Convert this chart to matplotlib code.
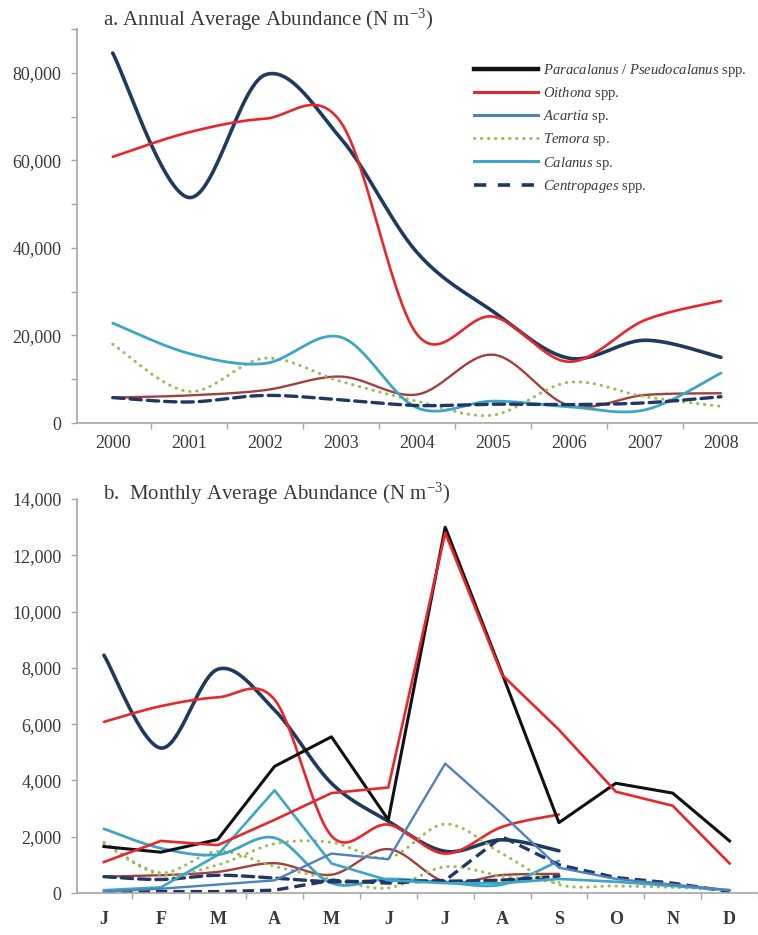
import numpy as np
import matplotlib
matplotlib.use("Agg")
import matplotlib.pyplot as plt
from matplotlib.lines import Line2D
from matplotlib.ticker import FuncFormatter, MultipleLocator

plt.rcParams['font.family'] = ['Liberation Serif', 'DejaVu Serif']
plt.rcParams['mathtext.fontset'] = 'custom'
plt.rcParams['mathtext.rm'] = 'Liberation Serif'
plt.rcParams['mathtext.it'] = 'Liberation Serif:italic'

# annual averages (N m-3), 2000-2008
years = ['2000', '2001', '2002', '2003', '2004', '2005', '2006', '2007', '2008']
ann_navy = [84500, 51500, 79500, 65000, 39000, 25500, 14800, 18900, 15000]
ann_red = [60800, 66400, 69500, 68700, 20300, 24300, 14000, 23500, 27900]
ann_brown = [5800, 6300, 7500, 10600, 6500, 15600, 4000, 6400, 6800]
ann_temora = [18000, 7200, 14800, 9500, 5000, 1800, 9300, 6000, 3800]
ann_calanus = [22800, 15900, 13600, 19600, 3500, 5000, 3700, 3000, 11400]
ann_centro = [5800, 4800, 6300, 5300, 4000, 4300, 4200, 4600, 6000]

# monthly averages (N m-3)
months = ['J', 'F', 'M', 'A', 'M', 'J', 'J', 'A', 'S', 'O', 'N', 'D']
m_para = [1650, 1450, 1900, 4500, 5550, 2600, 13000, 7800, 2500, 3900, 3550, 1850]
m_oith = [1100, 1850, 1700, 2600, 3550, 3750, 12800, 7750, 5800, 3600, 3100, 1050]
m_acartia = [50, 150, 300, 450, 1400, 1200, 4600, 2800, 900, 500, 300, 100]
m_calanus = [100, 200, 1350, 3650, 1050, 450, 350, 350, 500, 400, 250, 100]
m_temora = [1750, 650, 1000, 1750, 1800, 1250, 2450, 1400, 300, 250, 200, 100]
m_centro = [50, 50, 50, 100, 450, 350, 450, 2000, 1000, 550, 350, 50]

navy = '#1f3a5f'
red = '#e8262b'
brown = '#a3403f'
green = '#9bbb59'
cyan = '#3ea6c4'
dnavy = '#1f3864'
blue = '#4f81bd'
black = '#111111'
gray = '#a6a6a6'
txt = '#3a3a3a'


def smooth(y, n=30):
    # Excel-like smoothed line (Catmull-Rom through the points)
    y = np.asarray(y, float)
    x = np.arange(len(y), dtype=float)
    px = np.concatenate([[x[0]], x, [x[-1]]])
    py = np.concatenate([[y[0]], y, [y[-1]]])
    t = np.linspace(0, 1, n, endpoint=False)
    xs, ys = [], []
    for i in range(len(y) - 1):
        for P, out in ((px, xs), (py, ys)):
            p0, p1, p2, p3 = P[i], P[i + 1], P[i + 2], P[i + 3]
            out.append(0.5 * (2 * p1 + (-p0 + p2) * t
                              + (2 * p0 - 5 * p1 + 4 * p2 - p3) * t ** 2
                              + (-p0 + 3 * p1 - 3 * p2 + p3) * t ** 3))
    return np.concatenate(xs + [[x[-1]]]), np.concatenate(ys + [[y[-1]]])


dash = (0, (3.4, 1.8))
dots = (0, (0.1, 2.2))

fig = plt.figure(figsize=(7.58, 9.35), dpi=100)
axa = fig.add_axes([77 / 758, 1 - 423 / 935, 682 / 758, 394 / 935])
axb = fig.add_axes([77 / 758, 1 - 893 / 935, 681 / 758, 394 / 935])

fmt = FuncFormatter(lambda v, p: '{:,.0f}'.format(v))


def style(ax, nx):
    for s in ('top', 'right'):
        ax.spines[s].set_visible(False)
    for s in ('left', 'bottom'):
        ax.spines[s].set_color(gray)
        ax.spines[s].set_linewidth(1.2)
    ax.set_xticks(range(nx))
    ax.set_xticks(np.arange(nx) + 0.5, minor=True)
    ax.tick_params(axis='x', which='major', length=0, labelsize=13, colors=txt)
    ax.tick_params(axis='x', which='minor', length=4, color=gray, width=1)
    ax.tick_params(axis='y', which='both', length=4, color=gray, width=1,
                   labelsize=13, colors=txt, pad=7)
    ax.yaxis.set_major_formatter(fmt)


# panel a
series_a = [(ann_navy, navy, 2.6, '-'), (ann_red, red, 1.9, '-'),
            (ann_brown, brown, 1.7, '-'), (ann_temora, green, 2.2, dots),
            (ann_calanus, cyan, 2.0, '-'), (ann_centro, dnavy, 2.4, dash)]
for vals, c, lw, ls in series_a:
    sx, sy = smooth(vals)
    axa.plot(sx, sy, color=c, lw=lw, ls=ls, dash_capstyle='round', solid_capstyle='round')
axa.set_xlim(-0.47, 8.44)
axa.set_ylim(0, 90000)
axa.yaxis.set_major_locator(MultipleLocator(20000))
axa.yaxis.set_minor_locator(MultipleLocator(10000))
style(axa, len(years))
axa.set_xticklabels(years)
axa.tick_params(axis='x', which='major', pad=9)

# panel b (annual curves repeated at 1/10 scale, plus the monthly lines)
for vals, c, lw, ls in series_a:
    sx, sy = smooth(np.asarray(vals) / 10)
    axb.plot(sx, sy, color=c, lw=lw, ls=ls, dash_capstyle='round', solid_capstyle='round')
mx = np.arange(len(months))
sx, sy = smooth(m_temora)
axb.plot(sx, sy, color=green, lw=2.2, ls=dots, dash_capstyle='round')
axb.plot(mx, m_centro, color=dnavy, lw=2.4, ls=dash)
axb.plot(mx, m_calanus, color=cyan, lw=1.9)
axb.plot(mx, m_acartia, color=blue, lw=1.7)
axb.plot(mx, m_para, color=black, lw=2.2)
axb.plot(mx, m_oith, color=red, lw=1.9)
axb.set_xlim(-0.474, 11.47)
axb.set_ylim(0, 14000)
axb.yaxis.set_major_locator(MultipleLocator(2000))
style(axb, len(months))
axb.set_xticklabels(months, fontweight='bold')
axb.tick_params(axis='x', which='major', pad=13)

fig.text(103 / 758, 1 - 20 / 935, r'a. Annual Average Abundance (N m$^{-3}$)',
         fontsize=15, color=txt, va='center')
fig.text(103 / 758, 1 - 494 / 935, r'b.  Monthly Average Abundance (N m$^{-3}$)',
         fontsize=15, color=txt, va='center')

handles = [Line2D([], [], color=black, lw=3.2),
           Line2D([], [], color=red, lw=2.2),
           Line2D([], [], color=blue, lw=2.2),
           Line2D([], [], color=green, lw=2.2, ls=dots, dash_capstyle='round'),
           Line2D([], [], color=cyan, lw=2.2),
           Line2D([], [], color=dnavy, lw=2.6, ls=(0, (3.4, 3.2)))]
labels = [r'$\it{Paracalanus}$ / $\it{Pseudocalanus}$ spp.',
          r'$\it{Oithona}$ spp.', r'$\it{Acartia}$ sp.', r'$\it{Temora}$ sp.',
          r'$\it{Calanus}$ sp.', r'$\it{Centropages}$ spp.']
fig.legend(handles, labels, loc='upper left', bbox_to_anchor=(474 / 758, 1 - 62 / 935),
           frameon=False, handlelength=4.4, handletextpad=0.35, labelspacing=0.42,
           fontsize=10.5, borderaxespad=0, borderpad=0, labelcolor=txt)

fig.savefig('out.png', dpi=100)
